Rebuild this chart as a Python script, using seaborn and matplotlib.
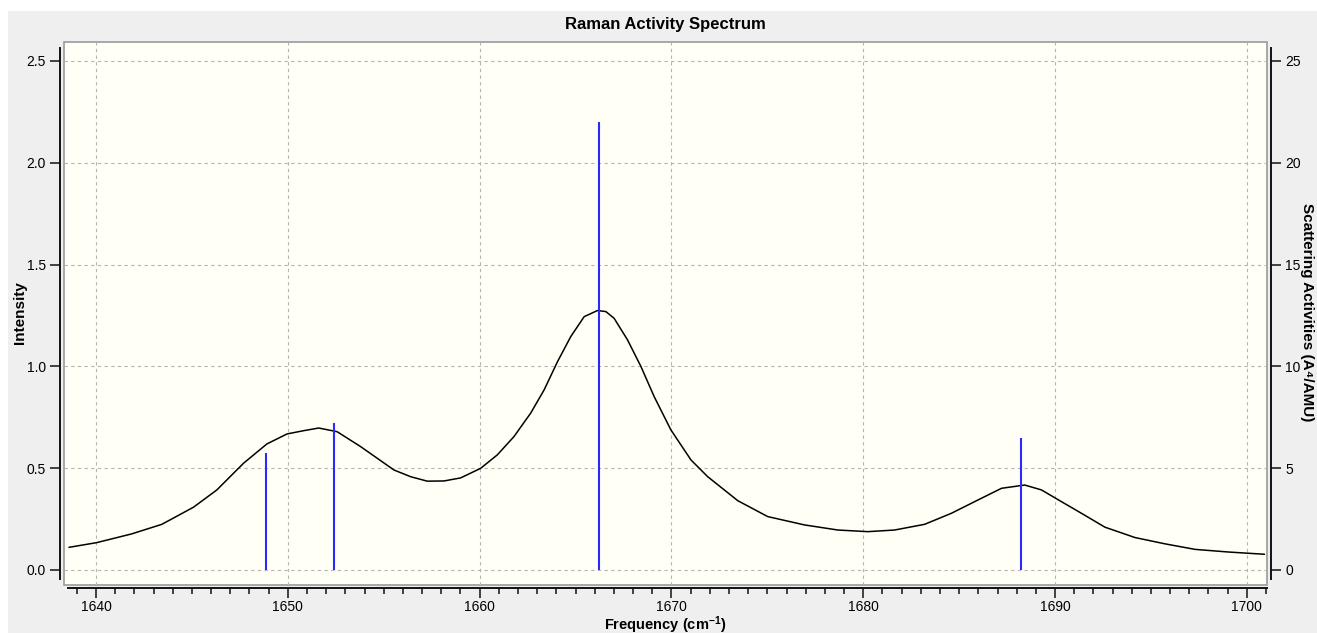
import numpy as np
import pandas as pd
import matplotlib
matplotlib.use("Agg")
import matplotlib.pyplot as plt
import seaborn as sns
from matplotlib.patches import Rectangle
from matplotlib.ticker import MultipleLocator

# broadened Raman curve
freq = [1638.59, 1640.03, 1641.86, 1643.43, 1645.08, 1646.30, 1647.69, 1648.91,
        1649.96, 1650.83, 1651.61, 1652.57, 1653.79, 1655.53, 1656.40, 1657.27,
        1658.14, 1659.01, 1660.05, 1660.92, 1661.79, 1662.66, 1663.36, 1664.06,
        1664.75, 1665.45, 1666.14, 1666.58, 1667.01, 1667.71, 1668.41, 1669.10,
        1669.97, 1671.02, 1671.89, 1673.46, 1675.02, 1676.94, 1678.68, 1680.24,
        1681.63, 1683.20, 1684.59, 1685.99, 1687.21, 1688.42, 1689.29, 1690.34,
        1691.38, 1692.60, 1694.17, 1695.74, 1697.30, 1699.04, 1700.92]
intensity = [0.111, 0.134, 0.177, 0.224, 0.308, 0.393, 0.524, 0.619,
             0.668, 0.684, 0.697, 0.679, 0.606, 0.491, 0.458, 0.436,
             0.437, 0.452, 0.499, 0.565, 0.655, 0.770, 0.884, 1.023,
             1.146, 1.244, 1.274, 1.269, 1.236, 1.130, 0.999, 0.851,
             0.688, 0.540, 0.458, 0.340, 0.262, 0.221, 0.196, 0.188,
             0.196, 0.224, 0.278, 0.344, 0.401, 0.417, 0.393, 0.335,
             0.278, 0.210, 0.159, 0.128, 0.101, 0.088, 0.077]

# stick spectrum (scattering activities)
mode_freq = [1648.88, 1652.39, 1666.21, 1688.20]
activity = [5.73, 7.22, 22.0, 6.5]

df = pd.DataFrame({"freq": freq, "intensity": intensity})

sns.set_style("ticks")
plt.rcParams["font.family"] = ["Liberation Sans", "DejaVu Sans"]
plt.rcParams["mathtext.default"] = "regular"
plt.rcParams["text.color"] = "black"

W, H = 1317, 633
fig = plt.figure(figsize=(W / 100, H / 100), dpi=100, facecolor="white")
# grey window background
fig.patches.append(Rectangle((8 / W, 0), 1, 1 - 11 / H, transform=fig.transFigure,
                             facecolor="#efefef", edgecolor="none", zorder=-10))

ax = fig.add_axes([64 / W, (H - 585) / H, (1267 - 64) / W, (585 - 42) / H])
ax.set_facecolor("#fffff6")
ax.patch.set_edgecolor("#9a9a9a")
ax.patch.set_linewidth(1.2)

sns.lineplot(data=df, x="freq", y="intensity", ax=ax, color="black", lw=1.1,
             sort=False, estimator=None)

ax.set_xlim(1638.33, 1701.05)
ax.set_ylim(-0.074, 2.593)
ax.xaxis.set_major_locator(MultipleLocator(10))
ax.xaxis.set_minor_locator(MultipleLocator(1))
ax.yaxis.set_major_locator(MultipleLocator(0.5))
ax.yaxis.set_major_formatter(matplotlib.ticker.FormatStrFormatter("%.1f"))
ax.grid(True, which="major", color="#b4b4b4", linestyle=(0, (3, 3)), lw=0.8)
ax.set_xlabel("")
ax.set_ylabel("")

for s in ["top", "right"]:
    ax.spines[s].set_visible(False)
ax.spines["left"].set_position(("outward", 3))
ax.spines["bottom"].set_position(("outward", 2))
ax.spines["left"].set_bounds(-0.044, 2.564)
ax.spines["bottom"].set_bounds(1638.54, 1701.05)
for s in ["left", "bottom"]:
    ax.spines[s].set_color("#111111")
    ax.spines[s].set_linewidth(1.4)
ax.tick_params(axis="both", which="major", length=7, width=1.1, color="#111111",
               labelsize=10, labelcolor="black", pad=3)
ax.tick_params(axis="x", which="major", pad=1.5)
ax.tick_params(axis="x", which="minor", length=4, width=1.1, color="#111111")

# right axis for the stick spectrum
ax2 = ax.twinx()
ax2.patch.set_visible(False)
ax2.vlines(mode_freq, 0, activity, color="#2a2aff", lw=1.5)
ax2.set_ylim(-0.74, 25.93)
ax2.yaxis.set_major_locator(MultipleLocator(5))
for s in ["top", "left", "bottom"]:
    ax2.spines[s].set_visible(False)
ax2.spines["right"].set_position(("outward", 3))
ax2.spines["right"].set_bounds(-0.44, 25.64)
ax2.spines["right"].set_color("#111111")
ax2.spines["right"].set_linewidth(1.4)
ax2.tick_params(axis="y", length=7, width=1.1, color="#111111", labelsize=10,
                labelcolor="black", pad=3)

fig.text(665 / W, 1 - 25 / H, "Raman Activity Spectrum", ha="center", va="center",
         fontsize=12, fontweight="bold")
fig.text(20 / W, 1 - 313 / H, "Intensity", ha="center", va="center", rotation=90,
         fontsize=11, fontweight="bold")
fig.text(665 / W, 1 - 614 / H, r"Frequency (cm$^{-1}$)", ha="center", va="top",
         fontsize=10.5, fontweight="bold")
fig.text(1307 / W, 1 - 312 / H, "Scattering Activities (A\u2074/AMU)", ha="center",
         va="center", rotation=270, fontsize=11, fontweight="bold")

fig.savefig("out.png", dpi=100, facecolor=fig.get_facecolor())
